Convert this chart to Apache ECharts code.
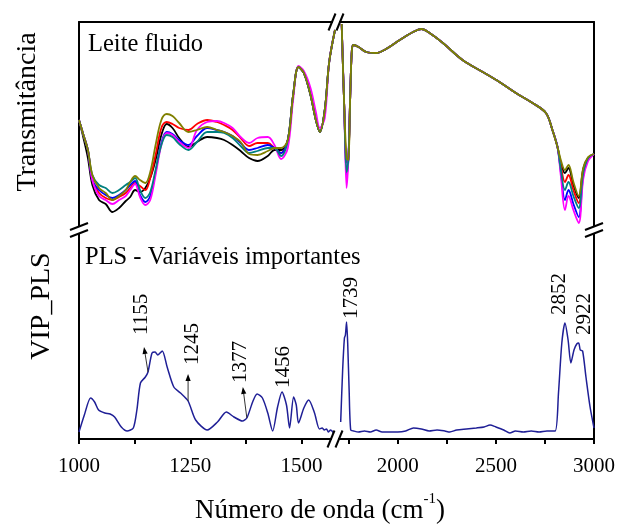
<!DOCTYPE html>
<html>
<head>
<meta charset="utf-8">
<script src="https://cdn.jsdelivr.net/npm/echarts@6/dist/echarts.min.js"></script>
<style>
  html, body { margin: 0; padding: 0; background: #fff; }
  #chart { width: 618px; height: 529px; }
</style>
</head>
<body>
<div id="chart"></div>
<script>
// ---- FTIR spectra of fluid milk, 1000-1575 cm-1 segment ----
const specWnLeft = [1000, 1010, 1020, 1030, 1045, 1060, 1075, 1090, 1105, 1115, 1126, 1137, 1149, 1160, 1172, 1185, 1197, 1210, 1225, 1246, 1265, 1288, 1310, 1326, 1345, 1363, 1382, 1401, 1424, 1439, 1454, 1469, 1481, 1493, 1505, 1520, 1532, 1541, 1552, 1562, 1575];
const blackLeft   = [55, 46, 36, 22.5, 15, 13, 9, 11, 14.5, 16.5, 20, 19, 21, 26, 35, 47.5, 53, 51, 46, 41.5, 44, 46.5, 46, 45, 42.5, 39.5, 36, 34.5, 37, 40, 40, 45, 67.5, 81.5, 78.5, 67.5, 55, 49, 60, 84, 100];
const redLeft     = [55, 47.5, 40, 25, 18.5, 16, 15, 16.5, 18.5, 21, 23.5, 22, 20, 26, 37.5, 51, 54, 53, 51, 50, 53, 55, 54, 52.5, 50, 46, 42, 43.5, 43.5, 41, 38.5, 45, 67.5, 81.5, 78.5, 67.5, 55, 49, 60, 84, 100];
const blueLeft    = [55, 47.5, 40, 25, 20, 17.5, 16, 17.5, 20, 22.5, 24.5, 17.5, 14, 17, 29, 43.5, 49, 48, 45, 42.5, 47, 51, 50, 49, 47, 43.5, 40, 41, 42.5, 41, 38.5, 45, 67.5, 81.5, 78.5, 67.5, 55, 49, 60, 84, 100];
const magentaLeft = [55, 47.5, 40, 25, 17, 15, 13, 15, 17, 20, 23, 16.5, 12.5, 15, 27.5, 42.5, 48.5, 47.5, 44, 41, 50, 54, 54.5, 53.5, 51, 46.5, 43.5, 46, 46.5, 42.5, 35.5, 41, 65, 82, 79.5, 71, 59, 51, 56, 84, 100];
const tealLeft    = [55, 47.5, 40, 27.5, 22.5, 21, 18.5, 20, 22.5, 24, 26, 20, 16, 19, 30, 42.5, 47.5, 46.5, 43, 40, 44, 49, 49, 48.5, 46, 42, 38.5, 39.5, 41, 41, 37, 45, 67.5, 81.5, 78.5, 67.5, 55, 49, 60, 84, 100];
const oliveLeft   = [55, 47.5, 40, 27.5, 21, 18.5, 15, 17, 20, 24, 27, 25, 23.5, 29, 42.5, 55, 58, 57, 53.5, 49, 50, 51.5, 50, 49, 47, 44, 38, 37.5, 39.5, 41, 41, 45, 67.5, 81.5, 78.5, 67.5, 55, 49, 60, 84, 100];

// ---- FTIR spectra, 1680-3000 cm-1 segment ----
const specWnRight = [1714, 1727, 1739, 1748, 1757, 1766, 1775, 1800, 1840, 1890, 1940, 2010, 2078, 2120, 2162, 2230, 2330, 2433, 2518, 2602, 2687, 2755, 2788, 2814, 2831, 2852, 2870, 2895, 2922, 2945, 2970, 3000];
const blackRight   = [103, 62, 34, 35, 65, 90, 92.5, 91.5, 89, 88.5, 90.5, 95, 99, 100.5, 98.5, 93.5, 85, 79, 74, 68.5, 63.5, 58.5, 50, 41.5, 33.5, 28.5, 31, 22.5, 16, 30.5, 36, 38];
const redRight     = [103, 62, 34, 35, 65, 90, 92.5, 91.5, 89, 88.5, 90.5, 95, 99, 100.5, 98.5, 93.5, 85, 79, 74, 68.5, 63.5, 58.5, 50, 41.5, 32, 24, 27.5, 20, 13.5, 29.5, 36, 38];
const blueRight    = [103, 62, 27.5, 35, 65, 90, 92.5, 91.5, 89, 88.5, 90.5, 95, 99, 100.5, 98.5, 93.5, 85, 79, 74, 68.5, 63.5, 58.5, 50, 41.5, 29, 15, 20, 13, 6.5, 27, 35.5, 38];
const magentaRight = [103, 62, 21, 35, 65, 90, 92.5, 91.5, 89, 88.5, 90.5, 95, 99, 100.5, 98.5, 93.5, 85, 79, 74, 68.5, 63.5, 58.5, 50, 41.5, 27, 10, 17, 10, 3.5, 25.5, 34.5, 38];
const tealRight    = [103, 62, 29, 35, 65, 90, 92.5, 91.5, 89, 88.5, 90.5, 95, 99, 100.5, 98.5, 93.5, 85, 79, 74, 68.5, 63.5, 58.5, 50, 41.5, 30, 20, 24, 17, 11, 28.5, 36, 38];
const oliveRight   = [103, 62, 36, 35, 65, 90, 92.5, 91.5, 89, 88.5, 90.5, 95, 99, 100.5, 98.5, 93.5, 85, 79, 74, 68.5, 63.5, 58.5, 50, 41.5, 35, 30, 32.5, 24, 17, 31, 36.5, 38];

// ---- VIP scores of the PLS model ----
const vipWnLeft  = [1000, 1012, 1026, 1035, 1044, 1058, 1070, 1080, 1095, 1108, 1122, 1130, 1138, 1149, 1155, 1164, 1171, 1177, 1187, 1198, 1213, 1228, 1245, 1262, 1288, 1311, 1331, 1348, 1367, 1377, 1390, 1400, 1412, 1424, 1435, 1446, 1456, 1466, 1473, 1482, 1488, 1493, 1505, 1516, 1529, 1540, 1546, 1551, 1556, 1560, 1565, 1572];
const vipLeft    = [0.07, 0.24, 0.41, 0.37, 0.29, 0.26, 0.25, 0.22, 0.12, 0.08, 0.11, 0.29, 0.56, 0.62, 0.67, 0.86, 0.87, 0.84, 0.88, 0.72, 0.52, 0.46, 0.38, 0.19, 0.09, 0.17, 0.27, 0.22, 0.18, 0.21, 0.37, 0.45, 0.41, 0.26, 0.08, 0.32, 0.47, 0.34, 0.11, 0.42, 0.34, 0.16, 0.31, 0.39, 0.26, 0.10, 0.11, 0.09, 0.10, 0.07, 0.09, 0.06];
const vipWnRight = [1709, 1719, 1728, 1733, 1739, 1745, 1752, 1760, 1775, 1800, 1830, 1860, 1890, 1920, 1960, 2000, 2040, 2080, 2120, 2160, 2200, 2240, 2265, 2300, 2350, 2400, 2440, 2470, 2500, 2540, 2571, 2600, 2640, 2680, 2720, 2760, 2802, 2819, 2836, 2852, 2868, 2882, 2898, 2912, 2922, 2930, 2942, 2959, 2980, 3000];
const vipRight   = [0.17, 0.69, 1.01, 1.04, 1.17, 0.94, 0.49, 0.09, 0.08, 0.07, 0.08, 0.07, 0.09, 0.07, 0.07, 0.07, 0.08, 0.11, 0.10, 0.08, 0.09, 0.08, 0.07, 0.09, 0.10, 0.11, 0.12, 0.14, 0.12, 0.09, 0.06, 0.08, 0.07, 0.08, 0.07, 0.08, 0.08, 0.46, 0.96, 1.16, 0.99, 0.76, 0.89, 0.95, 0.96, 0.89, 0.88, 0.62, 0.32, 0.11];

// ---- axis ticks and annotated wavenumbers ----
const ticksLeft   = [1000, 1125, 1250, 1375, 1500];
const labelsLeft  = [1000, 1250, 1500];
const ticksRight  = [1750, 2000, 2250, 2500, 2750, 3000];
const labelsRight = [2000, 2500, 3000];
const peakLabels  = [1155, 1245, 1377, 1456, 1739, 2852, 2922];

const SERIF = '"Liberation Serif", "Times New Roman", serif';
const specColors = ['#000000', '#ff0000', '#0000ff', '#ff00ff', '#008080', '#808000'];
const VIP_COLOR = '#1f1f96';

// plot frame (px)
const X0 = 79, XB = 335, X1 = 594, Y0 = 22, YM = 230, Y1 = 439;

const pair = (xs, ys) => xs.map((x, i) => [x, ys[i]]);

const chart = echarts.init(document.getElementById('chart'), null, { renderer: 'canvas' });

function xAx(grid, min, max, pos, ticks, labels) {
  return {
    type: 'value', gridIndex: grid, min: min, max: max, position: pos,
    axisLine: { show: true, onZero: false, lineStyle: { color: '#000', width: 2 } },
    axisTick: ticks ? { show: true, inside: false, length: 5, customValues: ticks, lineStyle: { color: '#000', width: 2 } } : { show: false },
    axisLabel: labels ? { show: true, customValues: labels, margin: 17, color: '#000', fontSize: 21, fontFamily: SERIF,
      formatter: v => String(v) } : { show: false },
    splitLine: { show: false }
  };
}
function yAx(grid, max, pos) {
  return {
    type: 'value', gridIndex: grid, min: 0, max: max, position: pos,
    axisLine: { show: true, onZero: false, lineStyle: { color: '#000', width: 2 } },
    axisTick: { show: false }, axisLabel: { show: false }, splitLine: { show: false }
  };
}

const leftSpec  = [blackLeft, redLeft, blueLeft, magentaLeft, tealLeft, oliveLeft];
const rightSpec = [blackRight, redRight, blueRight, magentaRight, tealRight, oliveRight];

const series = [];
leftSpec.forEach((vals, i) => series.push({
  type: 'line', xAxisIndex: 0, yAxisIndex: 0, data: pair(specWnLeft, vals),
  smooth: 0.35, showSymbol: false, lineStyle: { color: specColors[i], width: 1.8 }, z: 2 + i
}));
rightSpec.forEach((vals, i) => series.push({
  type: 'line', xAxisIndex: 1, yAxisIndex: 1, data: pair(specWnRight, vals),
  smooth: 0.35, showSymbol: false, lineStyle: { color: specColors[i], width: 1.8 }, z: 2 + i
}));
series.push({ type: 'line', xAxisIndex: 2, yAxisIndex: 2, data: pair(vipWnLeft, vipLeft),
  smooth: 0.25, showSymbol: false, lineStyle: { color: VIP_COLOR, width: 1.5 } });
series.push({ type: 'line', xAxisIndex: 3, yAxisIndex: 3, data: pair(vipWnRight, vipRight),
  smooth: 0.25, showSymbol: false, lineStyle: { color: VIP_COLOR, width: 1.5 } });

chart.setOption({
  animation: false,
  grid: [
    { left: X0, top: Y0, width: XB - X0, height: YM - Y0 },
    { left: XB, top: Y0, width: X1 - XB, height: YM - Y0 },
    { left: X0, top: YM, width: XB - X0, height: Y1 - YM },
    { left: XB, top: YM, width: X1 - XB, height: Y1 - YM }
  ],
  xAxis: [
    xAx(0, 1000, 1575, 'top'),
    xAx(1, 1680, 3000, 'top'),
    xAx(2, 1000, 1575, 'bottom', ticksLeft, labelsLeft),
    xAx(3, 1680, 3000, 'bottom', ticksRight, labelsRight)
  ],
  yAxis: [
    yAx(0, 104, 'left'), yAx(1, 104, 'right'),
    yAx(2, 2.09, 'left'), yAx(3, 2.09, 'right')
  ],
  series: series
});

// ---- annotations: break marks, peak labels, titles ----
const g = [];
function hBreak(cx, cy) {
  g.push({ type: 'rect', shape: { x: cx - 3, y: cy - 3, width: 6, height: 6 }, style: { fill: '#fff' }, z: 100 });
  [-4, 4].forEach(o => g.push({ type: 'line', shape: { x1: cx + o - 3.5, y1: cy + 8.5, x2: cx + o + 3.5, y2: cy - 8.5 },
    style: { stroke: '#000', lineWidth: 2 }, z: 101 }));
}
function vBreak(cx, cy) {
  g.push({ type: 'rect', shape: { x: cx - 3, y: cy - 3, width: 6, height: 6 }, style: { fill: '#fff' }, z: 100 });
  [-3.5, 3.5].forEach(o => g.push({ type: 'line', shape: { x1: cx - 9, y1: cy + o + 3.5, x2: cx + 9, y2: cy + o - 3.5 },
    style: { stroke: '#000', lineWidth: 2 }, z: 101 }));
}
hBreak(XB + 1, Y0);
hBreak(XB, Y1);
vBreak(X0, YM);
vBreak(X1, YM);

const labelLayout = {
  1155: { arrow: [-4, -25], text: [-7, -37] },
  1245: { arrow: [0, -27], text: [4, -36] },
  1377: { arrow: [-4, -31], text: [-6, -35] },
  1456: { text: [1, -4] },
  1739: { text: [5, -3] },
  2852: { text: [-5, -8] },
  2922: { text: [6, -8] }
};
peakLabels.forEach(wn => {
  const onLeft = wn < 1600;
  const wns = onLeft ? vipWnLeft : vipWnRight;
  const vals = onLeft ? vipLeft : vipRight;
  const idx = onLeft ? 2 : 3;
  const p = chart.convertToPixel({ xAxisIndex: idx, yAxisIndex: idx }, [wn, vals[wns.indexOf(wn)]]);
  const lay = labelLayout[wn];
  if (lay.arrow) {
    const ex = p[0] + lay.arrow[0], ey = p[1] + lay.arrow[1];
    const dx = lay.arrow[0], dy = lay.arrow[1], len = Math.hypot(dx, dy);
    const ux = dx / len, uy = dy / len;
    g.push({ type: 'line', shape: { x1: p[0], y1: p[1], x2: ex - ux * 5, y2: ey - uy * 5 },
      style: { stroke: '#333', lineWidth: 1 }, z: 50 });
    g.push({ type: 'polygon', shape: { points: [[ex, ey],
      [ex - ux * 7 - uy * 2.6, ey - uy * 7 + ux * 2.6], [ex - ux * 7 + uy * 2.6, ey - uy * 7 - ux * 2.6]] },
      style: { fill: '#000' }, z: 51 });
  }
  g.push({ type: 'text', x: p[0] + lay.text[0], y: p[1] + lay.text[1], rotation: Math.PI / 2,
    style: { text: String(wn), fontSize: 21, fontFamily: SERIF, fill: '#000', align: 'left', verticalAlign: 'middle' }, z: 60 });
});

g.push({ type: 'text', x: 88, y: 45, style: { text: 'Leite fluido', fontSize: 24.5, fontFamily: SERIF, fill: '#000', align: 'left', verticalAlign: 'middle' }, z: 60 });
g.push({ type: 'text', x: 85, y: 258, style: { text: 'PLS - Variáveis importantes', fontSize: 24.5, fontFamily: SERIF, fill: '#000', align: 'left', verticalAlign: 'middle' }, z: 60 });
g.push({ type: 'text', x: 28, y: 112, rotation: Math.PI / 2, style: { text: 'Transmitância', fontSize: 28, fontFamily: SERIF, fill: '#000', align: 'center', verticalAlign: 'middle' }, z: 60 });
g.push({ type: 'text', x: 42, y: 306, rotation: Math.PI / 2, style: { text: 'VIP_PLS', fontSize: 28, fontFamily: SERIF, fill: '#000', align: 'center', verticalAlign: 'middle' }, z: 60 });
g.push({ type: 'text', x: 320, y: 508, style: {
  text: '{a|Número de onda (cm}{s|-1}{a|)}', fontFamily: SERIF, fill: '#000', align: 'center', verticalAlign: 'middle',
  rich: { a: { fontSize: 27, fontFamily: SERIF, lineHeight: 32, verticalAlign: 'bottom' }, s: { fontSize: 15, fontFamily: SERIF, lineHeight: 32, verticalAlign: 'top' } }
}, z: 60 });

chart.setOption({ graphic: g });
</script>
</body>
</html>
